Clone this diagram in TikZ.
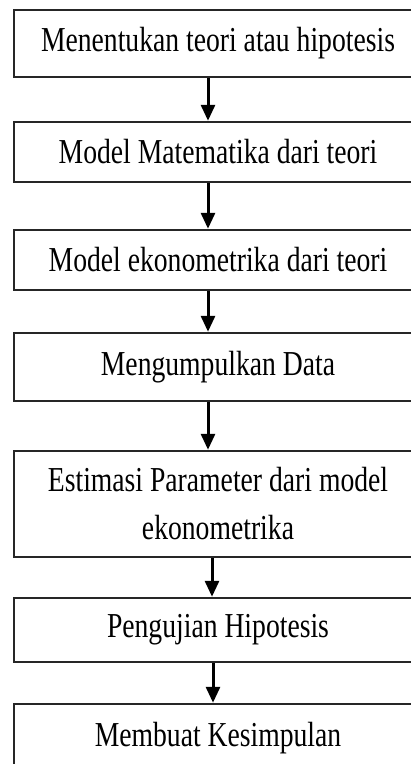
\documentclass[tikz,border=0pt]{standalone}
\usepackage{fontspec}
\setmainfont{Liberation Serif}[FakeStretch=0.79]
\usetikzlibrary{arrows.meta}

\tikzset{
  stepbox/.style={draw=black!85, line width=2.5pt, minimum width=408pt, inner sep=0pt,
    align=center, font=\fontsize{35}{48}\selectfont},
  flowarrow/.style={line width=3pt, -{Triangle[length=16pt,width=14pt]}}
}

\begin{document}
\begin{tikzpicture}[x=1pt,y=-1pt]
\clip (0,0) rectangle (411,764);
\fill[white] (0,0) rectangle (411,764);

\node[stepbox, minimum height=67pt] (teori) at (218,43.5) {Menentukan teori atau hipotesis};
\node[stepbox, minimum height=60pt] (matematika) at (218,152) {Model Matematika dari teori};
\node[stepbox, minimum height=60pt] (ekonometrika) at (218,260) {Model ekonometrika dari teori};
\node[stepbox, minimum height=68pt] (data) at (218,367) {Mengumpulkan Data};
\node[stepbox, minimum height=106pt] (estimasi) at (218,504) {Estimasi Parameter dari model\\ekonometrika};
\node[stepbox, minimum height=64pt] (pengujian) at (218,630) {Pengujian Hipotesis};
\node[stepbox, minimum height=68pt] (kesimpulan) at (218,738) {Membuat Kesimpulan};

\foreach \a/\b/\s in {teori/matematika/-10, matematika/ekonometrika/-10,
  ekonometrika/data/-10, data/estimasi/-10, estimasi/pengujian/-6, pengujian/kesimpulan/-5}
  \draw[flowarrow] ([xshift=\s pt]\a.south) -- ([xshift=\s pt]\b.north);
\end{tikzpicture}
\end{document}
